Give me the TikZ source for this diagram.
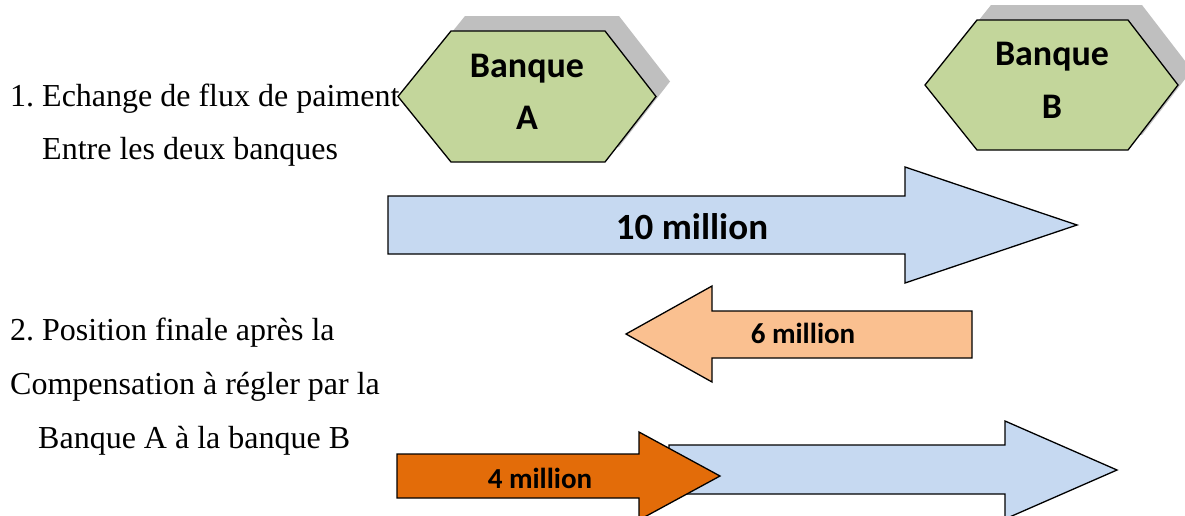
\documentclass[tikz,border=0pt]{standalone}
\usepackage{fontspec}
\setmainfont{Liberation Serif}
\newfontfamily\calfont{Carlito}
\frenchspacing
\definecolor{hexgreen}{HTML}{C3D69B}
\definecolor{shadowgray}{HTML}{BFBFBF}
\definecolor{lightblue}{HTML}{C6D9F1}
\definecolor{lightorange}{HTML}{FAC090}
\definecolor{darkorange}{HTML}{E36C09}
\tikzset{
  outline/.style={draw=black,line width=1.3pt,line join=miter},
  hexbox/.style={outline,fill=hexgreen},
  hexshadow/.style={fill=shadowgray,draw=none},
  bluearrow/.style={outline,fill=lightblue},
  palearrow/.style={outline,fill=lightorange},
  deeparrow/.style={outline,fill=darkorange},
  bodytext/.style={inner sep=0pt,anchor=base west,font=\fontsize{32}{38}\selectfont},
  banklabel/.style={inner sep=0pt,anchor=base,font=\calfont\bfseries\fontsize{36}{43}\selectfont},
  biglabel/.style={inner sep=0pt,anchor=base,font=\calfont\bfseries\fontsize{37}{44}\selectfont},
  smalllabel/.style={inner sep=0pt,anchor=base,font=\calfont\bfseries\fontsize{29}{35}\selectfont},
}
\begin{document}
\begin{tikzpicture}[x=1pt,y=-1pt]
\useasboundingbox (0,0) rectangle (1185,515);
\clip (0,0) rectangle (1185,515);
% left texts
\node[bodytext] (t1) at (10,106) {1. Echange de flux de paiment};
\node[bodytext] (t2) at (42,159) {Entre les deux banques};
\node[bodytext] (t3) at (10,340) {2. Position finale après la};
\node[bodytext] (t4) at (10,394) {Compensation à régler par la};
\node[bodytext] (t5) at (38,448) {Banque A à la banque B};
% Bank A
\fill[hexshadow,shift={(14,-15)}] (398,96.5) -- (451,31) -- (605,31) -- (656,96.5) -- (605,162) -- (451,162) -- cycle;
\draw[hexbox] (398,96.5) -- (451,31) -- (605,31) -- (656,96.5) -- (605,162) -- (451,162) -- cycle;
\node[banklabel] (bankA1) at (527,77) {Banque};
\node[banklabel] (bankA2) at (527,129) {A};
% Bank B
\fill[hexshadow,shift={(14,-15)}] (925,85) -- (977,20) -- (1128,20) -- (1178,85) -- (1128,150) -- (977,150) -- cycle;
\draw[hexbox] (925,85) -- (977,20) -- (1128,20) -- (1178,85) -- (1128,150) -- (977,150) -- cycle;
\node[banklabel] (bankB1) at (1052,65) {Banque};
\node[banklabel] (bankB2) at (1052,118) {B};
% arrow 10 million
\draw[bluearrow] (388,196) -- (905,196) -- (905,167) -- (1077,225) -- (905,283) -- (905,254) -- (388,254) -- cycle;
\node[biglabel] (ten) at (692,239) {10 million};
% arrow 6 million
\draw[palearrow] (626,334) -- (712,286) -- (712,311) -- (972,311) -- (972,358) -- (712,358) -- (712,382) -- cycle;
\node[smalllabel] (six) at (803,343) {6 million};
% arrow 3 blue
\draw[bluearrow] (669,445) -- (1005,445) -- (1005,421) -- (1117,470) -- (1005,519) -- (1005,494) -- (669,494) -- cycle;
% arrow 4 million
\draw[deeparrow] (397,454) -- (639,454) -- (639,432) -- (720,476) -- (639,520) -- (639,498) -- (397,498) -- cycle;
\node[smalllabel] (four) at (540,488) {4 million};
\end{tikzpicture}
\end{document}
